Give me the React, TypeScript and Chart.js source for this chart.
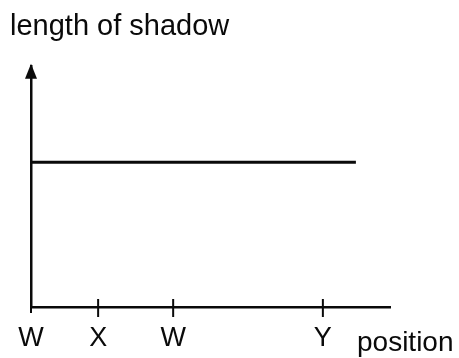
import React, { useEffect, useRef } from "react";
import { Chart, registerables } from "chart.js";

Chart.register(...registerables);

// Positions along the path (arbitrary units) and their letters
const tickPositions = [0, 1.87, 3.96, 8.13];
const tickLabels = ["W", "X", "W", "Y"];

// Shadow length stays constant along the path
const shadowX = [0, 9.05];
const shadowLength = [6, 6];

const X_MAX = 10;
const Y_MAX = 10;
const FONT = "'Liberation Sans', Arial, Helvetica, sans-serif";
const INK = "#0a0a0a";

// Arrowhead on the vertical axis, crossing tick marks and the "position" caption
const axisDecor = {
  id: "axisDecor",
  afterDraw(chart: any) {
    const { ctx, scales } = chart;
    const xs = scales.x;
    const ys = scales.y;
    const axisX = xs.left;
    const axisY = ys.bottom;
    ctx.save();
    ctx.fillStyle = INK;
    ctx.strokeStyle = INK;

    // arrowhead
    ctx.beginPath();
    ctx.moveTo(axisX, ys.top - 2);
    ctx.lineTo(axisX - 6, ys.top + 13);
    ctx.lineTo(axisX + 6, ys.top + 13);
    ctx.closePath();
    ctx.fill();

    // tick marks
    ctx.lineWidth = 2;
    tickPositions.forEach((v, i) => {
      const px = xs.getPixelForValue(v);
      ctx.beginPath();
      if (i === 0) {
        ctx.moveTo(px, axisY);
        ctx.lineTo(px, axisY + 6);
      } else {
        ctx.moveTo(px, axisY - 8);
        ctx.lineTo(px, axisY + 10);
      }
      ctx.stroke();
    });

    // axis caption
    ctx.font = `28px ${FONT}`;
    ctx.textAlign = "left";
    ctx.textBaseline = "alphabetic";
    ctx.fillText("position", xs.right - 33, axisY + 44);
    ctx.restore();
  },
};

export default function App() {
  const canvasRef = useRef<HTMLCanvasElement>(null);

  useEffect(() => {
    if (!canvasRef.current) return;
    const chart = new Chart(canvasRef.current, {
      type: "line",
      data: {
        datasets: [
          {
            label: "length of shadow",
            data: shadowX.map((x, i) => ({ x, y: shadowLength[i] })),
            borderColor: INK,
            borderWidth: 3,
            pointRadius: 0,
            fill: false,
          },
        ],
      },
      options: {
        responsive: false,
        animation: false,
        layout: { padding: { left: 10, right: 69, top: 0, bottom: 0 } },
        plugins: {
          legend: { display: false },
          tooltip: { enabled: false },
          title: {
            display: true,
            text: "length of shadow",
            align: "start",
            color: INK,
            font: { family: FONT, size: 29, weight: "normal" },
            padding: { top: 10, bottom: 21 },
          },
        },
        scales: {
          x: {
            type: "linear",
            min: 0,
            max: X_MAX,
            grid: { display: false },
            border: { display: true, color: INK, width: 2.5 },
            afterBuildTicks: (scale: any) => {
              scale.ticks = tickPositions.map((value) => ({ value }));
            },
            afterFit: (scale: any) => {
              scale.height = 51;
            },
            ticks: {
              autoSkip: false,
              maxRotation: 0,
              padding: 7,
              color: INK,
              font: { family: FONT, size: 27 },
              callback: (_v: any, i: number) => tickLabels[i],
            },
          },
          y: {
            type: "linear",
            min: 0,
            max: Y_MAX,
            grid: { display: false },
            border: { display: true, color: INK, width: 2.5 },
            ticks: { display: false },
            afterFit: (scale: any) => {
              scale.width = 21;
            },
          },
        },
      },
      plugins: [axisDecor],
    });
    return () => chart.destroy();
  }, []);

  return (
    <div style={{ position: "fixed", left: 0, top: 0, width: 459, height: 358, background: "#fff" }}>
      <canvas ref={canvasRef} width={459} height={358} />
    </div>
  );
}
